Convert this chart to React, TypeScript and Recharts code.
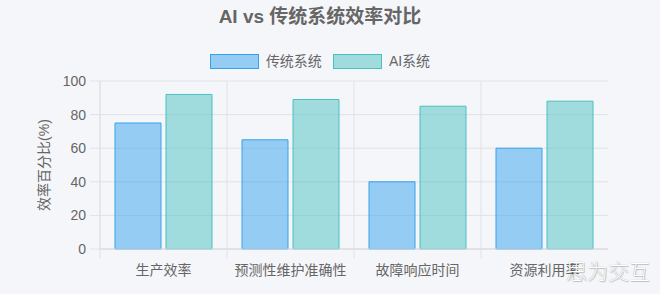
import React from "react";
import {
  BarChart,
  Bar,
  XAxis,
  YAxis,
  CartesianGrid,
} from "recharts";

const categories = ["生产效率", "预测性维护准确性", "故障响应时间", "资源利用率"];
const traditionalValues = [75, 65, 40, 60];
const aiValues = [92, 89, 85, 88];
const yTicks = [0, 20, 40, 60, 80, 100];

const seriesNames = { traditional: "传统系统", ai: "AI系统" };

const data = categories.map((name, i) => ({
  name,
  traditional: traditionalValues[i],
  ai: aiValues[i],
}));

const FONT = "'Helvetica Neue', Arial, 'Liberation Sans', 'Noto Sans CJK SC', sans-serif";
const TEXT = "#666666";
const GRID = "#e1e2e6";
const BG = "#f5f6fa";

const BLUE_FILL = "rgba(54,162,235,0.5)";
const BLUE_LINE = "rgb(54,162,235)";
const TEAL_FILL = "rgba(75,192,192,0.5)";
const TEAL_LINE = "rgb(75,192,192)";

// X tick: category label plus a short tick mark on the band's left edge
const CategoryTick = (props: any) => {
  const { x, y, payload } = props;
  const half = payload.offset || 0;
  return (
    <g>
      <line x1={x - half} y1={y - 10} x2={x - half} y2={y} stroke={GRID} />
      <text
        x={x}
        y={y}
        dy={16}
        textAnchor="middle"
        fill={TEXT}
        fontSize={14}
        fontFamily={FONT}
      >
        {payload.value}
      </text>
    </g>
  );
};

const legendItems = [
  { label: seriesNames.traditional, fill: BLUE_FILL, line: BLUE_LINE },
  { label: seriesNames.ai, fill: TEAL_FILL, line: TEAL_LINE },
];

export default function App() {
  return (
    <div
      style={{
        position: "fixed",
        left: 0,
        top: 0,
        width: 660,
        height: 294,
        background: BG,
        overflow: "hidden",
      }}
    >
      <div
        style={{
          position: "absolute",
          top: 6,
          left: 0,
          width: 640,
          textAlign: "center",
          fontFamily: FONT,
          fontSize: 19,
          fontWeight: 700,
          color: TEXT,
          lineHeight: "22px",
        }}
      >
        AI vs 传统系统效率对比
      </div>
      <div
        style={{
          position: "absolute",
          top: 52,
          left: 0,
          width: 640,
          display: "flex",
          justifyContent: "center",
          alignItems: "center",
          gap: 11,
          fontFamily: FONT,
          fontSize: 14,
          color: TEXT,
          lineHeight: "18px",
        }}
      >
        {legendItems.map((it) => (
          <div key={it.label} style={{ display: "flex", alignItems: "center" }}>
            <span
              style={{
                display: "inline-block",
                width: 47,
                height: 13,
                background: it.fill,
                border: `1px solid ${it.line}`,
                marginRight: 7,
              }}
            />
            <span>{it.label}</span>
          </div>
        ))}
      </div>
      <BarChart
        width={660}
        height={294}
        data={data}
        margin={{ top: 81, right: 52, bottom: 15, left: 0 }}
        barSize={46}
        barGap={5}
        style={{ position: "absolute", left: 0, top: 0 }}
      >
        <CartesianGrid
          stroke={GRID}
          verticalCoordinatesGenerator={({ offset }: any) =>
            categories.slice(1).map((_, i) => offset.left + ((i + 1) * offset.width) / categories.length)
          }
        />
        <XAxis
          dataKey="name"
          height={30}
          tickLine={false}
          tickSize={10}
          tickMargin={0}
          axisLine={{ stroke: "#d6d7db" }}
          tick={<CategoryTick />}
          interval={0}
        />
        <YAxis
          domain={[0, 100]}
          ticks={yTicks}
          width={100}
          tickSize={10}
          tickMargin={4}
          tickLine={{ stroke: GRID }}
          axisLine={{ stroke: "#d6d7db" }}
          tick={{ fill: TEXT, fontSize: 14, fontFamily: FONT }}
          label={{
            value: "效率百分比(%)",
            angle: -90,
            position: "center",
            dx: -6,
            fill: TEXT,
            fontSize: 14,
            fontFamily: FONT,
          }}
        />
        <Bar
          dataKey="traditional"
          name={seriesNames.traditional}
          fill={BLUE_FILL}
          stroke={BLUE_LINE}
          strokeWidth={1}
          isAnimationActive={false}
        />
        <Bar
          dataKey="ai"
          name={seriesNames.ai}
          fill={TEAL_FILL}
          stroke={TEAL_LINE}
          strokeWidth={1}
          isAnimationActive={false}
        />
      </BarChart>
      <div
        style={{
          position: "absolute",
          left: 566,
          top: 255,
          fontFamily: "'Noto Sans CJK SC', sans-serif",
          fontSize: 21,
          fontWeight: 300,
          color: "#ffffff",
          textShadow: "0 0 1px rgba(0,0,0,0.4), 1px 1px 1px rgba(0,0,0,0.2)",
        }}
      >
        思为交互
      </div>
    </div>
  );
}
